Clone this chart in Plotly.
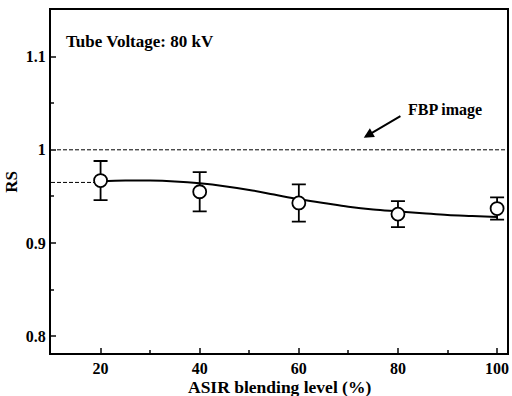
import plotly.graph_objects as go

# Data
asir_levels = [20, 40, 60, 80, 100]
rs_values = [0.967, 0.955, 0.943, 0.931, 0.937]
rs_errors = [0.021, 0.021, 0.020, 0.014, 0.012]

fit_x = [20, 25, 30, 35, 40, 45, 50, 55, 60, 65, 70, 75, 80, 85, 90, 95, 100]
fit_y = [0.966, 0.967, 0.967, 0.966, 0.964, 0.961, 0.957, 0.952, 0.947, 0.943, 0.939, 0.936, 0.934, 0.932, 0.930, 0.929, 0.928]

fbp_level = 1.0
ref_level = 0.965

x_ticks = [20, 40, 60, 80, 100]
y_ticks = [0.8, 0.9, 1.0, 1.1]
y_ticktext = ["0.8", "0.9", "1", "1.1"]

FONT = "Liberation Serif"

fig = go.Figure()

fig.add_trace(go.Scatter(x=[10, 102], y=[fbp_level, fbp_level], mode="lines",
                         line=dict(color="black", width=1, dash="4px,2px"), showlegend=False))
fig.add_trace(go.Scatter(x=[10, 19], y=[ref_level, ref_level], mode="lines",
                         line=dict(color="black", width=1, dash="4px,2px"), showlegend=False))
fig.add_trace(go.Scatter(x=fit_x, y=fit_y, mode="lines", line=dict(color="black", width=2, shape="spline"),
                         showlegend=False))
fig.add_trace(go.Scatter(x=asir_levels, y=rs_values, mode="markers",
                         marker=dict(symbol="circle", size=13, color="white", line=dict(color="black", width=1.8)),
                         error_y=dict(type="data", array=rs_errors, color="black", thickness=1.8, width=7),
                         showlegend=False))

fig.add_annotation(x=12.6, y=1.116, xref="x", yref="y", text="<b>Tube Voltage: 80 kV</b>",
                   showarrow=False, xanchor="left", yanchor="middle",
                   font=dict(family=FONT, size=17, color="black"))
fig.add_annotation(x=81.6, y=1.043, xref="x", yref="y", text="<b>FBP image</b>",
                   showarrow=False, xanchor="left", yanchor="middle",
                   font=dict(family=FONT, size=16, color="black"))
fig.add_annotation(x=73.1, y=1.013, ax=80.8, ay=1.037, xref="x", yref="y", axref="x", ayref="y",
                   text="", showarrow=True, arrowhead=2, arrowsize=1, arrowwidth=2, arrowcolor="black")

fig.add_annotation(x=0.5, y=-0.1, xref="paper", yref="paper", text="<b>ASIR blending level (%)</b>",
                   showarrow=False, xanchor="center", yanchor="middle",
                   font=dict(family=FONT, size=17.5, color="black"))
fig.add_annotation(x=-0.087, y=0.5, xref="paper", yref="paper", text="<b>RS</b>", textangle=-90,
                   showarrow=False, xanchor="center", yanchor="middle",
                   font=dict(family=FONT, size=17, color="black"))

fig.update_layout(
    width=512, height=396,
    margin=dict(l=51, r=5, t=10, b=43, autoexpand=False),
    plot_bgcolor="white", paper_bgcolor="white",
    font=dict(family=FONT, color="black", size=16),
    xaxis=dict(range=[10, 102], tickvals=x_ticks, ticks="inside", ticklen=5, tickwidth=1.5, automargin=False,
               showline=True, linecolor="black", linewidth=2, mirror=True, showgrid=False, zeroline=False,
               tickfont=dict(family=FONT, size=16, weight="bold"),
               minor=dict(tickvals=[30, 50, 70, 90], ticks="inside", ticklen=3, tickwidth=1.5, showgrid=False)),
    yaxis=dict(range=[0.782, 1.15], tickvals=y_ticks, ticktext=y_ticktext, ticks="inside", ticklen=5, tickwidth=1.5,
               automargin=False,
               showline=True, linecolor="black", linewidth=2, mirror=True, showgrid=False, zeroline=False,
               tickfont=dict(family=FONT, size=16, weight="bold"),
               minor=dict(tickvals=[0.85, 0.95, 1.05], ticks="inside", ticklen=3, tickwidth=1.5, showgrid=False)),
)

fig.write_html("out.html", config={"displayModeBar": False},
               post_script="document.body.style.margin='0px';document.body.style.overflow='hidden';")
